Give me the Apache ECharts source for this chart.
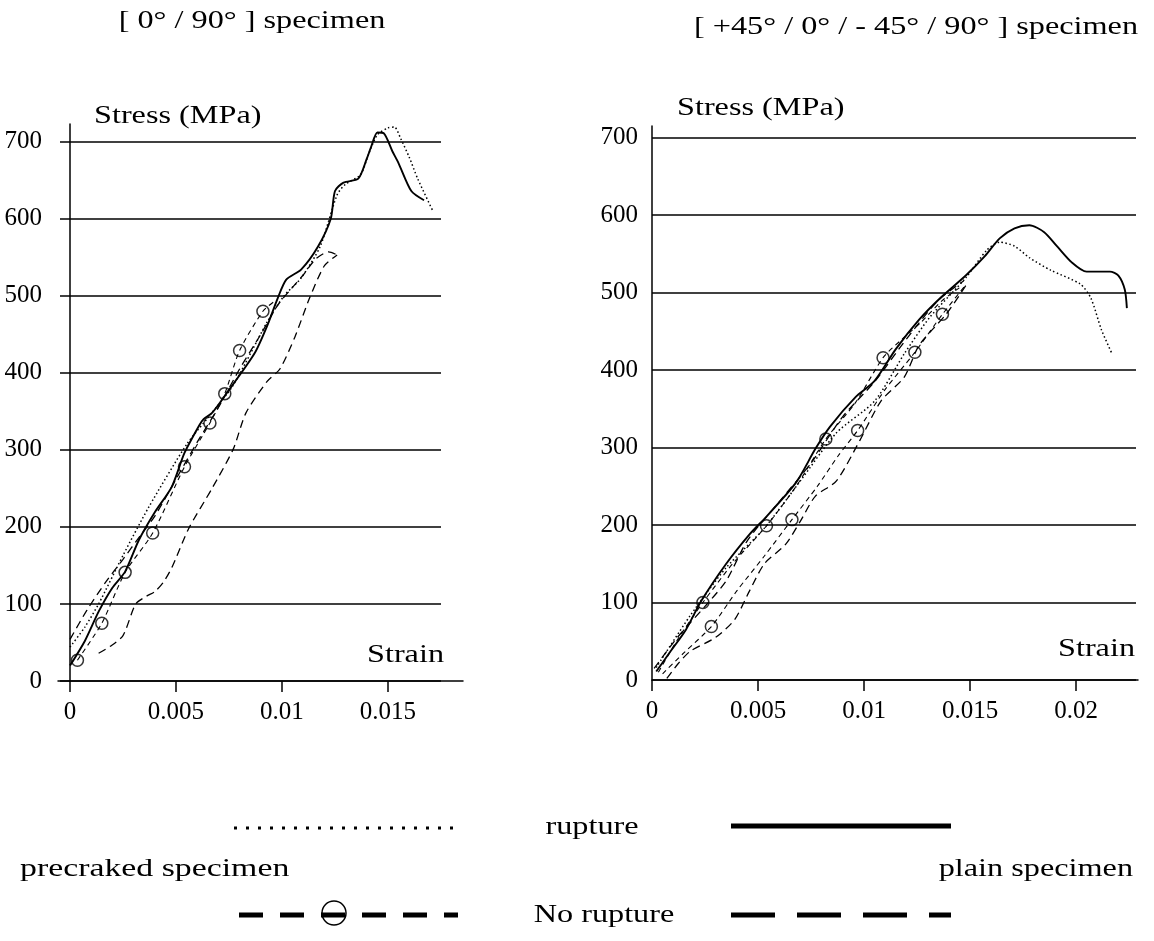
<!DOCTYPE html>
<html>
<head>
<meta charset="utf-8">
<script src="https://cdn.jsdelivr.net/npm/echarts@6/dist/echarts.min.js"></script>
<style>
  html, body { margin: 0; background: #fff; }
  #chart { width: 1154px; height: 941px; }
</style>
</head>
<body>
<div id="chart"></div>
<script>
// tick labels
const stressTicks = [0, 100, 200, 300, 400, 500, 600, 700];
const strainTicksLeft = [0, 0.005, 0.01, 0.015];
const strainTicksRight = [0, 0.005, 0.01, 0.015, 0.02];

// [ 0° / 90° ] specimen  -- [strain, stress MPa]
const leftPlainRupture = [[0, 20], [0.0007, 52], [0.00135, 90], [0.002, 121], [0.0026, 142], [0.00325, 183], [0.004, 219], [0.0048, 252], [0.0054, 296], [0.0061, 332], [0.0063, 340], [0.0067, 348], [0.0074, 374], [0.0087, 425], [0.0093, 461], [0.0098, 497], [0.0102, 521], [0.0109, 534], [0.0117, 564], [0.0123, 600], [0.0125, 636], [0.0129, 647], [0.0136, 652], [0.014, 678], [0.0142, 693], [0.0145, 712], [0.0148, 711], [0.0152, 688], [0.0155, 672], [0.0161, 636], [0.0167, 624]];
const leftPrecrackRupture = [[0, 44], [0.0007, 70], [0.00135, 100], [0.0025, 163], [0.0037, 225], [0.0055, 307], [0.0066, 345], [0.0077, 384], [0.0093, 466], [0.0101, 500], [0.0109, 523], [0.0118, 564], [0.0126, 631], [0.013, 645], [0.0137, 657], [0.0141, 685], [0.0145, 709], [0.015, 718], [0.0153, 719], [0.0156, 704], [0.016, 680], [0.0164, 652], [0.0171, 611]];
const leftPlainNoRupture1 = [[0, 54], [0.0008, 92], [0.0017, 129], [0.0025, 158], [0.0033, 188], [0.004, 214], [0.005, 262], [0.006, 310], [0.007, 355], [0.008, 405], [0.009, 450], [0.0098, 488], [0.0104, 508], [0.011, 527], [0.0116, 548], [0.0122, 557], [0.0126, 553]];
const leftPlainNoRupture2 = [[0.00135, 36], [0.0019, 45], [0.0025, 59], [0.0031, 100], [0.0036, 110], [0.004, 116], [0.0044, 128], [0.0048, 147], [0.0056, 198], [0.0067, 250], [0.0077, 301], [0.0083, 348], [0.0093, 389], [0.0099, 405], [0.0106, 446], [0.0113, 497], [0.012, 539], [0.0126, 553]];
const leftPrecrackNoRupture = [[0.00035, 27], [0.0015, 75], [0.0026, 141], [0.0039, 192], [0.0054, 278], [0.0066, 335], [0.0073, 373], [0.008, 429], [0.0091, 480], [0.0096, 492]];
const leftCircles = [[0.00035, 27], [0.0015, 75], [0.0026, 141], [0.0039, 192], [0.0054, 278], [0.0066, 335], [0.0073, 373], [0.008, 429], [0.0091, 480]];

// [ +45° / 0° / - 45° / 90° ] specimen
const rightPlainRupture = [[0.0002, 11], [0.0009, 38], [0.0016, 65], [0.0023, 101], [0.0035, 150], [0.0046, 188], [0.0054, 211], [0.0068, 255], [0.0077, 298], [0.0084, 327], [0.0096, 365], [0.0105, 386], [0.0115, 427], [0.0126, 465], [0.0136, 493], [0.0148, 522], [0.0157, 547], [0.0164, 570], [0.0171, 583], [0.0178, 587], [0.0185, 578], [0.0191, 560], [0.0198, 539], [0.0205, 527], [0.0216, 527], [0.022, 522], [0.0223, 504], [0.0224, 480]];
const rightPrecrackRupture = [[0.0002, 16], [0.0018, 83], [0.0035, 145], [0.0053, 196], [0.007, 257], [0.0087, 319], [0.0105, 360], [0.0119, 421], [0.0131, 468], [0.0148, 519], [0.0158, 555], [0.0164, 565], [0.0171, 560], [0.0178, 545], [0.0188, 529], [0.0202, 511], [0.0207, 493], [0.0212, 452], [0.0217, 421]];
const rightPlainNoRupture1 = [[0.0001, 15], [0.0012, 55], [0.0025, 95], [0.0035, 128], [0.0045, 180], [0.006, 230], [0.0075, 280], [0.009, 340], [0.0105, 385], [0.012, 440], [0.0135, 490], [0.0147, 515]];
const rightPlainNoRupture2 = [[0.0007, 2], [0.0012, 20], [0.0018, 37], [0.003, 55], [0.0039, 78], [0.0046, 115], [0.0053, 150], [0.0063, 175], [0.007, 205], [0.0077, 237], [0.0087, 257], [0.0098, 309], [0.0108, 360], [0.0119, 391], [0.0126, 432], [0.0139, 473], [0.0148, 509]];
const rightPrecrackNoRupture1 = [[0.0003, 10], [0.0012, 52], [0.0024, 100], [0.0038, 150], [0.0054, 199], [0.0068, 250], [0.0082, 311], [0.0096, 358], [0.0109, 416], [0.0118, 440], [0.0127, 462], [0.0137, 490], [0.0146, 508]];
const rightPrecrackNoRupture2 = [[0.0005, 8], [0.0015, 35], [0.0028, 69], [0.004, 115], [0.0053, 160], [0.0066, 207], [0.0078, 250], [0.0088, 290], [0.0097, 322], [0.011, 375], [0.0124, 423], [0.0137, 472], [0.0148, 510]];
const rightCircles = [[0.0024, 100], [0.0028, 69], [0.0054, 199], [0.0066, 207], [0.0082, 311], [0.0097, 322], [0.0109, 416], [0.0124, 423], [0.0137, 472]];

const font = 'Liberation Serif';
const black = { color: '#000', width: 1.5 };
const chart = echarts.init(document.getElementById('chart'));

const grid = [], xAxis = [], yAxis = [], series = [];

// one panel = a plot grid (curves + grid lines) and a slightly wider grid holding the strain axis
function addPanel(p) {
    const g = grid.length;
    grid.push({ left: p.left, top: p.top, width: p.width, height: p.height });
    grid.push({ left: p.axisLeft, top: p.top, width: p.axisWidth, height: p.height });
    xAxis.push({ gridIndex: g, type: 'value', min: p.xMin, max: p.xMax, show: false });
    xAxis.push({
        gridIndex: g + 1, type: 'value', min: p.axisMin, max: p.axisMax,
        axisLine: { onZero: false, lineStyle: black },
        axisTick: { customValues: p.xTicks, length: 11, lineStyle: black },
        axisLabel: { customValues: p.xTicks, margin: 19, color: '#000', fontFamily: font, fontSize: 25 },
        splitLine: { show: false }
    });
    yAxis.push({
        gridIndex: g, type: 'value', min: 0, max: p.yMax,
        axisLine: { show: true, onZero: true, lineStyle: black },
        axisTick: { show: false, customValues: stressTicks },
        axisLabel: { customValues: stressTicks, margin: p.labelMargin, color: '#000', fontFamily: font, fontSize: 25 },
        splitLine: { show: true, lineStyle: black }
    });
    yAxis.push({ gridIndex: g + 1, type: 'value', min: 0, max: 1, show: false });

    const ax = xAxis.length - 2, ay = yAxis.length - 2;
    const line = (data, type, width) => ({
        type: 'line', xAxisIndex: ax, yAxisIndex: ay, data, symbol: 'none', smooth: 0.25,
        lineStyle: { color: '#000', width, type }
    });
    p.plain.forEach(d => series.push(line(d, [8, 5], 1.3)));
    p.precrack.forEach(d => series.push(line(d, [5, 4], 1.1)));
    series.push(line(p.precrackRupture, [1.5, 2.5], 1.5));
    series.push(line(p.plainRupture, 'solid', 1.9));
    series.push({
        type: 'scatter', xAxisIndex: ax, yAxisIndex: ay, data: p.circles,
        symbol: 'circle', symbolSize: 12,
        itemStyle: { color: 'rgba(0,0,0,0)', borderColor: '#000', borderWidth: 1.5 }
    });
}

addPanel({
    left: 60, top: 124, width: 381, height: 557, xMin: -0.000472, xMax: 0.0175, yMax: 723,
    axisLeft: 58, axisWidth: 405, axisMin: -0.000566, axisMax: 0.018538,
    xTicks: strainTicksLeft, labelMargin: 18,
    plainRupture: leftPlainRupture, precrackRupture: leftPrecrackRupture,
    plain: [leftPlainNoRupture1, leftPlainNoRupture2], precrack: [leftPrecrackNoRupture],
    circles: leftCircles
});
addPanel({
    left: 652, top: 126, width: 484, height: 554, xMin: 0, xMax: 0.02283, yMax: 715,
    axisLeft: 652, axisWidth: 486, axisMin: 0, axisMax: 0.02292,
    xTicks: strainTicksRight, labelMargin: 14,
    plainRupture: rightPlainRupture, precrackRupture: rightPrecrackRupture,
    plain: [rightPlainNoRupture1, rightPlainNoRupture2],
    precrack: [rightPrecrackNoRupture1, rightPrecrackNoRupture2],
    circles: rightCircles
});

// the scanned lettering is wider than plain Times, hence the horizontal stretch
const txt = (text, x, y, align, sx) => ({
    type: 'text', x, y, scaleX: sx || 1.24,
    style: { text, fill: '#000', font: '26px "Liberation Serif"', align: align || 'center', verticalAlign: 'middle' }
});
const seg = (x1, x2, y, dash, w) => ({
    type: 'line', shape: { x1, y1: y, x2, y2: y },
    style: { stroke: '#000', lineWidth: w, lineDash: dash }
});

chart.setOption({
    animation: false,
    grid, xAxis, yAxis, series,
    graphic: [
        txt('[ 0° / 90° ] specimen', 252, 21),
        txt('[ +45° / 0° / - 45° / 90° ] specimen', 916, 27),
        txt('Stress (MPa)', 94, 116, 'left'),
        txt('Stress (MPa)', 677, 108, 'left'),
        txt('Strain', 444, 655, 'right'),
        txt('Strain', 1135, 649, 'right'),
        // legend
        seg(234, 454, 828, [3, 9], 3),
        txt('rupture', 592, 827),
        seg(731, 951, 826, null, 5),
        txt('precraked specimen', 20, 869, 'left', 1.3),
        txt('plain specimen', 1133, 869, 'right'),
        seg(239, 458, 915, [24, 17], 5),
        { type: 'circle', shape: { cx: 334, cy: 913, r: 12 }, style: { fill: 'rgba(0,0,0,0)', stroke: '#000', lineWidth: 1.5 } },
        txt('No rupture', 604, 915),
        seg(731, 951, 915, [44, 22], 5)
    ]
});
</script>
</body>
</html>
